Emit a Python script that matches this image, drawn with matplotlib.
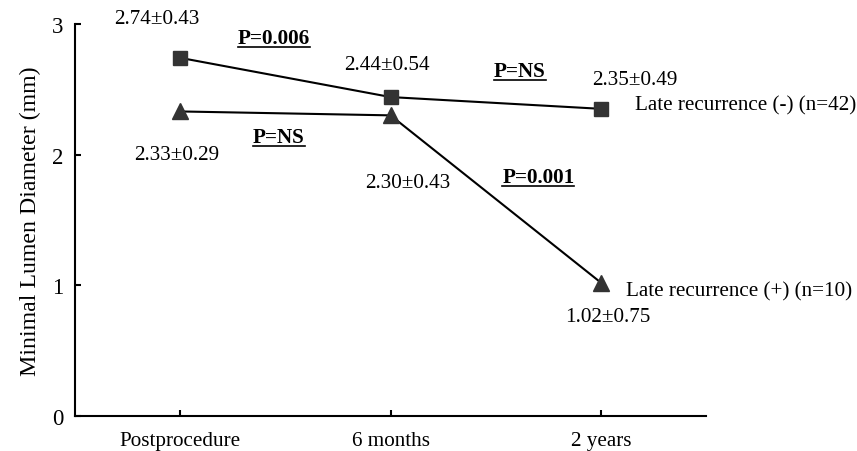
import matplotlib
matplotlib.use("Agg")
import matplotlib.pyplot as plt
from matplotlib.lines import Line2D

plt.rcParams['font.family'] = ['Liberation Serif', 'DejaVu Serif']

categories = ["Postprocedure", "6 months", "2 years"]
neg_values = [2.74, 2.44, 2.35]
neg_labels = ["2.74\u00b10.43", "2.44\u00b10.54", "2.35\u00b10.49"]
pos_values = [2.33, 2.30, 1.02]
pos_labels = ["2.33\u00b10.29", "2.30\u00b10.43", "1.02\u00b10.75"]
neg_name = "Late recurrence (-) (n=42)"
pos_name = "Late recurrence (+) (n=10)"
p_neg = ["P=0.006", "P=NS"]
p_pos = ["P=NS", "P=0.001"]
yticks = [0, 1, 2, 3]

FS = 15.2
fig = plt.figure(figsize=(8.57, 4.52), dpi=100)
ax = fig.add_axes([0.0875, 0.0774, 0.824 - 0.0875, 0.945 - 0.0774])
x = list(range(len(categories)))
ax.plot(x, neg_values, color='black', lw=1.5, zorder=2)
ax.plot(x, neg_values, ls='none', marker='s', ms=10.5, color='#333333', zorder=3)
ax.plot(x, pos_values, color='black', lw=1.5, zorder=2)
ax.plot(x, pos_values, ls='none', marker='^', ms=11, color='#333333', zorder=3)

ax.set_xlim(-0.5, 2.5)
ax.set_ylim(0, 3)
ax.set_xticks(x)
ax.set_xticklabels(categories, fontsize=FS)
ax.set_yticks(yticks)
ax.set_yticklabels([str(t) for t in yticks], fontsize=16.5)
ax.tick_params(direction='in', length=4.5, width=1.5)
ax.tick_params(axis='x', pad=11)
ax.tick_params(axis='y', pad=8.5)
for s in ['top', 'right']:
    ax.spines[s].set_visible(False)
for s in ['left', 'bottom']:
    ax.spines[s].set_linewidth(1.5)
ax.set_ylabel("Minimal Lumen Diameter (mm)", fontsize=17.2, labelpad=8)

px = 0.72
neg_off = [(-23, 39.6), (-3.5, 33), (34, 29.6)]
pos_off = [(-3, -43), (17.5, -67), (7, -34)]
for i in range(3):
    ax.annotate(neg_labels[i], (x[i], neg_values[i]), xytext=(neg_off[i][0] * px, neg_off[i][1] * px),
                textcoords='offset points', ha='center', va='center', fontsize=FS)
    ax.annotate(pos_labels[i], (x[i], pos_values[i]), xytext=(pos_off[i][0] * px, pos_off[i][1] * px),
                textcoords='offset points', ha='center', va='center', fontsize=FS)
ax.annotate(neg_name, (x[2], neg_values[2]), xytext=(34 * px, 3.6 * px), textcoords='offset points',
            ha='left', va='center', fontsize=FS)
ax.annotate(pos_name, (x[2], pos_values[2]), xytext=(25 * px, -8.4 * px), textcoords='offset points',
            ha='left', va='center', fontsize=FS)

ptexts = []
ptexts.append(ax.text(0.445, 2.89, p_neg[0], ha='center', va='center', fontsize=FS, fontweight='bold'))
ptexts.append(ax.text(1.614, 2.64, p_neg[1], ha='center', va='center', fontsize=FS, fontweight='bold'))
ptexts.append(ax.text(0.469, 2.133, p_pos[0], ha='center', va='center', fontsize=FS, fontweight='bold'))
ptexts.append(ax.text(1.702, 1.827, p_pos[1], ha='center', va='center', fontsize=FS, fontweight='bold'))

fig.canvas.draw()
r = fig.canvas.get_renderer()
H = fig.bbox.height
W = fig.bbox.width
for t in ptexts:
    bb = t.get_window_extent(renderer=r)
    yy = bb.y0 + 1
    fig.add_artist(Line2D([bb.x0 / W, bb.x1 / W], [yy / H, yy / H], transform=fig.transFigure,
                          color='black', lw=1.2))

fig.savefig("out.png", dpi=100)
